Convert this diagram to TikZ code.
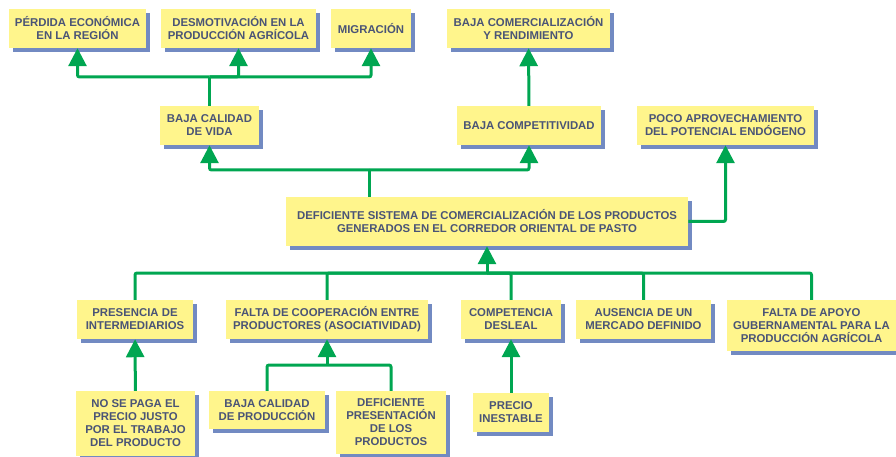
\documentclass[tikz,border=0pt]{standalone}
\usepackage{fontspec}
\setmainfont{Liberation Sans}
\definecolor{boxyellow}{RGB}{255,245,140}
\definecolor{boxshadow}{RGB}{114,138,194}
\definecolor{flowgreen}{RGB}{0,166,81}
\definecolor{boxtext}{RGB}{74,84,118}
\usetikzlibrary{arrows.meta,shadows}
\tikzstyle{box}=[rectangle,fill=boxyellow,text=boxtext,align=center,
inner sep=0pt,minimum height=1.17cm,font=\fontsize{9.7}{11.1}\selectfont\bfseries,
drop shadow={shadow xshift=0.12cm,shadow yshift=-0.12cm,fill=boxshadow,opacity=1}]
\tikzstyle{link}=[draw=flowgreen,line width=0.09cm,rounded corners=0.06cm]
\tikzstyle{arrow}=[link,-{Triangle[length=0.54cm,width=0.54cm]}]

\begin{document}
\begin{tikzpicture}[x=0.03cm,y=-0.03cm]
            \useasboundingbox (0,0) rectangle (896,457);

            % EFFECTS PART

            \node[box,minimum width=4.11cm] (perdida) at (77.5,28.5) {PÉRDIDA ECONÓMICA\\EN LA REGIÓN};
            \node[box,minimum width=4.65cm] (desmot) at (238.5,28.5) {DESMOTIVACIÓN EN LA\\PRODUCCIÓN AGRÍCOLA};
            \node[box,minimum width=2.40cm] (migracion) at (371,28.5) {MIGRACIÓN};
            \node[box,minimum width=4.89cm] (bajacom) at (528.5,28.5) {BAJA COMERCIALIZACIÓN\\Y RENDIMIENTO};

            \node[box,minimum width=2.97cm] (bajacal) at (209.5,125.5) {BAJA CALIDAD\\DE VIDA};
            \node[box,minimum width=4.32cm] (bajacomp) at (529,125.5) {BAJA COMPETITIVIDAD};
            \node[box,minimum width=5.31cm] (poco) at (725.5,125.5) {POCO APROVECHAMIENTO\\DEL POTENCIAL ENDÓGENO};

            \coordinate (jtop) at (209.5,77);
            \draw[link] (bajacal) -- (jtop);
            \draw[arrow] (jtop) -| (perdida.south);
            \draw[arrow] (jtop) -| (desmot.south);
            \draw[arrow] (jtop) -| (migracion.south);
            \draw[arrow] (bajacomp) -- (bajacom);

            % CENTRAL PROBLEM

            \node[box,minimum width=12.06cm,minimum height=1.47cm] (deficiente) at (487,221.5)
                {DEFICIENTE SISTEMA DE COMERCIALIZACIÓN DE LOS PRODUCTOS\\GENERADOS EN EL CORREDOR ORIENTAL DE PASTO};

            \coordinate (jmid) at (369,170);
            \draw[link] (deficiente.north -| jmid) -- (jmid);
            \draw[arrow] (jmid) -| (bajacal.south);
            \draw[arrow] (jmid) -| (bajacomp.south);
            \draw[arrow] (deficiente.east) -| (poco.south);

            % CAUSES PART

            \node[box,minimum width=3.48cm] (presencia) at (135,319.5) {PRESENCIA DE\\INTERMEDIARIOS};
            \node[box,minimum width=6.06cm] (faltacoop) at (327,319.5) {FALTA DE COOPERACIÓN ENTRE\\PRODUCTORES (ASOCIATIVIDAD)};
            \node[box,minimum width=3.00cm] (competencia) at (511,319.5) {COMPETENCIA\\DESLEAL};
            \node[box,minimum width=4.05cm] (ausencia) at (643.5,319.5) {AUSENCIA DE UN\\MERCADO DEFINIDO};
            \node[box,minimum width=5.07cm,minimum height=1.53cm] (faltaapoyo) at (811.5,325.5)
                {FALTA DE APOYO\\GUBERNAMENTAL PARA LA\\PRODUCCIÓN AGRÍCOLA};

            \coordinate (jbot) at (487,273);
            \draw[arrow] (jbot) -- (deficiente.south);
            \draw[link] (presencia.north) |- (jbot);
            \draw[link] (faltacoop.north) |- (jbot);
            \draw[link] (competencia.north) |- (jbot);
            \draw[link] (ausencia.north) |- (jbot);
            \draw[link] (faltaapoyo.north) |- (jbot);

            % ROOT CAUSES

            \node[box,minimum width=3.57cm,minimum height=1.95cm] (nosepaga) at (135.5,423.5)
                {NO SE PAGA EL\\PRECIO JUSTO\\POR EL TRABAJO\\DEL PRODUCTO};
            \node[box,minimum width=3.48cm,minimum height=1.14cm] (bajacalprod) at (267,410) {BAJA CALIDAD\\DE PRODUCCIÓN};
            \node[box,minimum width=3.30cm,minimum height=1.89cm] (defpres) at (391,422.5)
                {DEFICIENTE\\PRESENTACIÓN\\DE LOS\\PRODUCTOS};
            \node[box,minimum width=2.28cm] (precio) at (511,412.5) {PRECIO\\INESTABLE};

            \coordinate (jcoop) at (327,365);
            \draw[arrow] (nosepaga) -- (presencia);
            \draw[link] (bajacalprod.north) |- (jcoop) -| (defpres.north);
            \draw[arrow] (jcoop) -- (faltacoop.south);
            \draw[arrow] (precio) -- (competencia);

        \end{tikzpicture}
\end{document}
